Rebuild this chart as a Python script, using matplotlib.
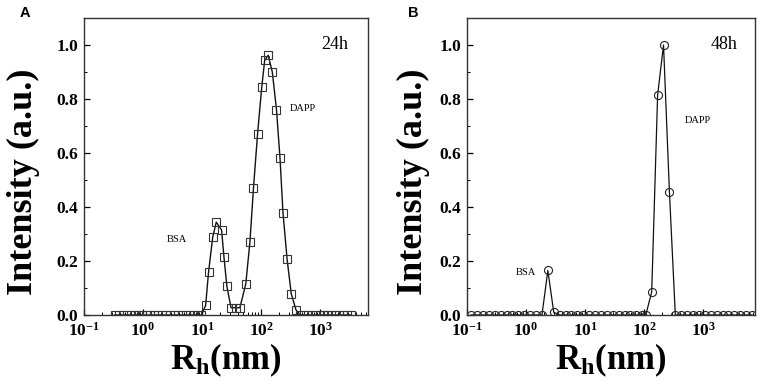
import matplotlib
matplotlib.use("Agg")
import matplotlib.pyplot as plt
import numpy as np
from matplotlib.ticker import FixedLocator, FixedFormatter, LogLocator, MultipleLocator, NullFormatter

plt.rcParams['font.family'] = ['Liberation Serif', 'DejaVu Serif']
plt.rcParams['mathtext.fontset'] = 'custom'
plt.rcParams['mathtext.rm'] = 'Liberation Serif:bold'
plt.rcParams['mathtext.bf'] = 'Liberation Serif:bold'
plt.rcParams['mathtext.it'] = 'Liberation Serif:bold'

# ---- Data (log10 of hydrodynamic radius in nm, intensity) ----
# Panel A (24h)
logrh_24 = [-0.48, -0.41, -0.34, -0.28, -0.21, -0.14, -0.08, -0.01, 0.06, 0.12,
            0.19, 0.26, 0.32, 0.39, 0.46, 0.52, 0.59, 0.66, 0.72, 0.79, 0.86, 0.92, 0.99,
            1.06, 1.11, 1.18, 1.24, 1.33, 1.37, 1.42, 1.49, 1.57, 1.64, 1.74, 1.81,
            1.87, 1.94, 2.01, 2.06, 2.12, 2.19, 2.26, 2.32, 2.37, 2.44, 2.51, 2.59,
            2.66, 2.72, 2.79, 2.86, 2.92, 2.99, 3.06, 3.12, 3.19, 3.26, 3.32, 3.39, 3.46, 3.52]
int_24 = [0.0] * 23 + [0.036, 0.16, 0.288, 0.344, 0.315, 0.216, 0.106, 0.027, 0.027, 0.027,
                       0.115, 0.27, 0.469, 0.672, 0.843, 0.943, 0.962, 0.899, 0.76, 0.58,
                       0.379, 0.206, 0.079, 0.019] + [0.0] * 14

# Panel B (48h)
logrh_48 = [-0.93, -0.83, -0.73, -0.63, -0.53, -0.43, -0.33, -0.23, -0.13, -0.03,
            0.07, 0.17, 0.27, 0.37, 0.47, 0.57, 0.67, 0.77, 0.87, 0.97,
            1.07, 1.17, 1.27, 1.37, 1.47, 1.57, 1.67, 1.77, 1.87, 1.97,
            2.03, 2.13, 2.23, 2.33, 2.43, 2.53, 2.63, 2.73, 2.83, 2.93,
            3.03, 3.13, 3.23, 3.33, 3.43, 3.53, 3.63, 3.73, 3.83]
int_48 = [0.0] * 13 + [0.165, 0.01] + [0.0] * 16 + [0.086, 0.815, 1.0, 0.455] + [0.0] * 14

xtick_vals = [0.1, 1, 10, 100, 1000]
xtick_labels = [r'$\mathbf{10^{-1}}$', r'$\mathbf{10^{0}}$', r'$\mathbf{10^{1}}$',
                r'$\mathbf{10^{2}}$', r'$\mathbf{10^{3}}$']
ytick_vals = [0.0, 0.2, 0.4, 0.6, 0.8, 1.0]

fig = plt.figure(figsize=(7.65, 3.9), dpi=100)
axA = fig.add_axes([84 / 765, 1 - 315 / 390, 284 / 765, 297 / 390])
axB = fig.add_axes([467 / 765, 1 - 315 / 390, 288 / 765, 297 / 390])


def style(ax, xmax, ylabel_x):
    ax.set_xscale('log')
    ax.set_xlim(0.1, xmax)
    ax.set_ylim(0, 1.1)
    ax.xaxis.set_major_locator(FixedLocator(xtick_vals))
    ax.xaxis.set_major_formatter(FixedFormatter(xtick_labels))
    ax.xaxis.set_minor_locator(LogLocator(base=10, subs=np.arange(2, 10)))
    ax.xaxis.set_minor_formatter(NullFormatter())
    ax.yaxis.set_major_locator(FixedLocator(ytick_vals))
    ax.set_yticklabels([f'{v:.1f}' for v in ytick_vals])
    ax.yaxis.set_minor_locator(MultipleLocator(0.1))
    ax.tick_params(which='both', direction='in', top=False, right=False)
    ax.tick_params(which='major', length=4, width=0.9, labelsize=12.5)
    ax.tick_params(axis='x', which='major', pad=5)
    ax.tick_params(axis='y', which='major', pad=4)
    ax.tick_params(which='minor', length=2, width=0.7)
    for lab in ax.get_yticklabels():
        lab.set_fontweight('bold')
    for sp in ax.spines.values():
        sp.set_linewidth(1.0)
        sp.set_color('#333333')
    ax.set_ylabel('Intensity (a.u.)', fontsize=26, fontweight='bold')
    ax.yaxis.set_label_coords(ylabel_x, 0.45)
    ax.set_xlabel(r'$\mathbf{R_h}$' + '(nm)', fontsize=25, fontweight='bold', labelpad=1)


x24 = [10 ** v for v in logrh_24]
x48 = [10 ** v for v in logrh_48]

axA.plot(x24, int_24, color='#111111', lw=1.0, marker='s', ms=5.2, mfc='none',
         mec='#333333', mew=0.8)
axB.plot(x48, int_48, color='#111111', lw=0.9, marker='o', ms=5.8, mfc='none',
         mec='#222222', mew=0.8)

style(axA, 10 ** 3.81, -0.155)
style(axB, 10 ** 3.88, -0.13)

axA.text(0.93, 0.91, '24h', transform=axA.transAxes, ha='right', va='center', fontsize=13)
axB.text(0.94, 0.91, '48h', transform=axB.transAxes, ha='right', va='center', fontsize=13)

axA.text(10 ** 2.48, 0.765, 'DAPP', ha='left', va='center', fontsize=7.5)
axA.text(10 ** 0.40, 0.28, 'BSA', ha='left', va='center', fontsize=7.5)
axB.text(10 ** 2.69, 0.72, 'DAPP', ha='left', va='center', fontsize=7.5)
axB.text(10 ** -0.17, 0.157, 'BSA', ha='left', va='center', fontsize=7.5)

fig.text(20 / 765, 1 - 13 / 390, 'A', fontsize=10.5, fontweight='bold',
         family='Liberation Sans', ha='left', va='center')
fig.text(408 / 765, 1 - 13 / 390, 'B', fontsize=10.5, fontweight='bold',
         family='Liberation Sans', ha='left', va='center')

fig.savefig('out.png', dpi=100)
